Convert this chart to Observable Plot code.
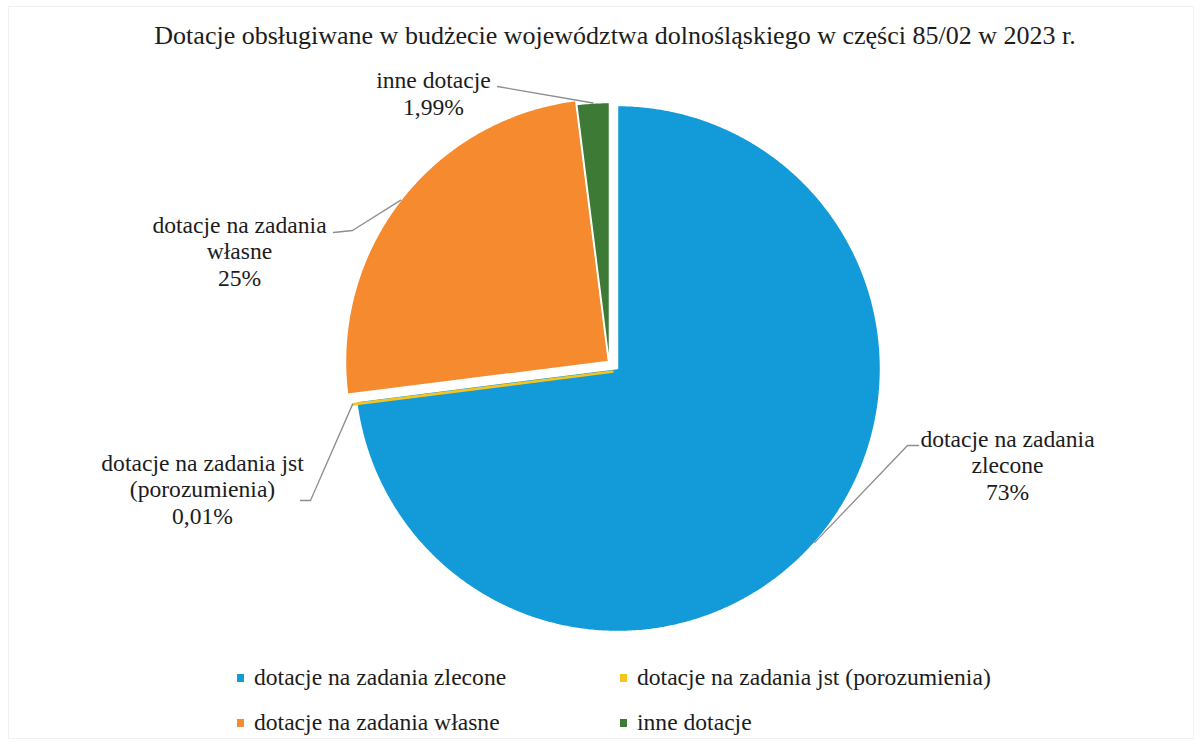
<!DOCTYPE html>
<html>
<head>
<meta charset="utf-8">
<script src="https://cdn.jsdelivr.net/npm/d3@7"></script>
<script src="https://cdn.jsdelivr.net/npm/@observablehq/plot@0.6"></script>
<style>
  html, body { margin: 0; padding: 0; background: #fff; }
  body { width: 1202px; height: 745px; position: relative; overflow: hidden; font-family: "Liberation Serif", "Times New Roman", serif; color: #1c1c1c; }
  #frame { position: absolute; left: 8px; top: 6px; width: 1186px; height: 733px; border: 1px solid #f1f1f1; box-sizing: border-box; }
  #title { position: absolute; left: 115px; width: 1000px; top: 21px; font-size: 26px; line-height: 30px; text-align: center; white-space: nowrap; }
  #chart { position: absolute; left: 0; top: 0; }
  #legend { position: absolute; left: 237px; top: 655px; display: grid; grid-template-columns: 383px auto; font-size: 23.6px; line-height: 45px; white-space: nowrap; }
  #legend .item { display: flex; align-items: center; }
  #legend .sw { width: 7px; height: 8px; margin-right: 10px; display: inline-block; }
</style>
</head>
<body>
<div id="frame"></div>
<div id="chart"></div>
<div id="title"></div>
<div id="legend"></div>
<script>
// ---- data ----
const title = "Dotacje obsługiwane w budżecie województwa dolnośląskiego w części 85/02 w 2023 r.";
const categories = ["dotacje na zadania zlecone", "dotacje na zadania jst (porozumienia)", "dotacje na zadania własne", "inne dotacje"];
const shares = [73, 0.01, 25, 1.99];
const percentLabels = ["73%", "0,01%", "25%", "1,99%"];
const labelLines = [["dotacje na zadania", "zlecone"], ["dotacje na zadania jst", "(porozumienia)"], ["dotacje na zadania", "własne"], ["inne dotacje"]];

// ---- style / layout ----
const colors = ["#129ad9", "#f7c41f", "#f58a2f", "#3c7a35"];
const W = 1202, H = 745;
const CX = 617, CY = 368, R = 263;           // pie centre and radius (px)
const explode = [[0, 0], [-4, 3], [-9, -7], [-8, -3]];   // per-slice offset (px)
// label text centre x, last baseline y, leader elbow points (px)
const labelLayout = [
  {x: 1007, y: 499, leader: [[918, 445], [907, 445]]},
  {x: 202,  y: 523, leader: [[300, 500], [310, 500]]},
  {x: 239,  y: 285, leader: [[333, 232], [352, 230]]},
  {x: 433,  y: 114, leader: [[497, 86]]}
];

const data = categories.map((name, i) => ({name, value: shares[i], pct: percentLabels[i], lines: labelLines[i], color: colors[i], i}));
const arcs = d3.pie().sort(null).value(d => d.value).startAngle(0).endAngle(2 * Math.PI)(data);

// px -> data units (radius = 1, centre = 0)
const ux = px => (px - CX) / R;
const uy = py => (py - CY) / R;

function wedge(a) {
  const [ox, oy] = explode[a.data.i];
  const dx = ox / R, dy = oy / R;
  const pts = [{x: dx, y: dy}];
  const n = Math.max(2, Math.ceil((a.endAngle - a.startAngle) / (Math.PI / 360)));
  for (let k = 0; k <= n; ++k) {
    const t = a.startAngle + (a.endAngle - a.startAngle) * k / n;
    pts.push({x: dx + Math.sin(t), y: dy - Math.cos(t)});
  }
  return pts;
}

const marks = [];
// slices
arcs.forEach(a => {
  const thin = a.data.value < 0.5;
  marks.push(Plot.line(wedge(a), {
    x: "x", y: "y", curve: "linear-closed",
    fill: a.data.color,
    stroke: thin ? a.data.color : "white",
    strokeWidth: thin ? 2.6 : 1.5,
    strokeLinejoin: "miter"
  }));
});
// leader lines
arcs.forEach(a => {
  const L = labelLayout[a.data.i];
  const [ox, oy] = explode[a.data.i];
  const mid = (a.startAngle + a.endAngle) / 2;
  const pts = L.leader.map(([px, py]) => ({x: ux(px), y: uy(py)}));
  pts.push({x: ox / R + Math.sin(mid), y: oy / R - Math.cos(mid)});
  marks.push(Plot.line(pts, {x: "x", y: "y", stroke: "#8d8d8d", strokeWidth: 1.3}));
});
// labels
marks.push(Plot.text(arcs, {
  x: a => ux(labelLayout[a.data.i].x),
  y: a => uy(labelLayout[a.data.i].y),
  text: a => [...a.data.lines, a.data.pct].join("\n"),
  lineAnchor: "bottom",
  lineHeight: 1.12,
  textAnchor: "middle",
  fontFamily: "'Liberation Serif', 'Times New Roman', serif",
  fontSize: 23.6,
  fill: "#1c1c1c"
}));

const chart = Plot.plot({
  width: W, height: H,
  margin: 0,
  x: {domain: [ux(0), ux(W)], range: [0, W], axis: null},
  y: {domain: [uy(0), uy(H)], range: [0, H], axis: null},
  style: {background: "transparent", overflow: "visible"},
  marks
});
document.getElementById("chart").appendChild(chart);
document.getElementById("title").textContent = title;

const legend = document.getElementById("legend");
data.forEach(d => {
  const it = document.createElement("div");
  it.className = "item";
  const sw = document.createElement("span");
  sw.className = "sw";
  sw.style.background = d.color;
  it.appendChild(sw);
  it.appendChild(document.createTextNode(d.name));
  legend.appendChild(it);
});
</script>
</body>
</html>
